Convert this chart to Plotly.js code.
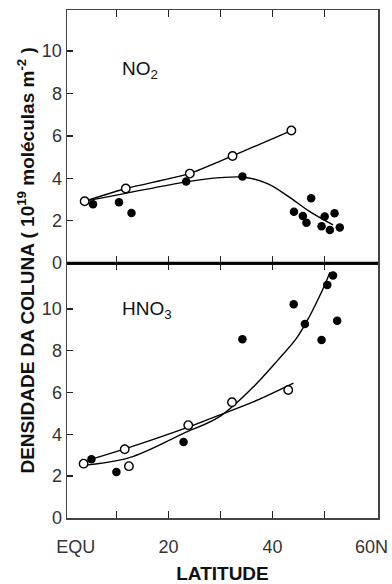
<!DOCTYPE html>
<html>
<head>
<meta charset="utf-8">
<script src="https://cdn.plot.ly/plotly-3.0.1.min.js"></script>
<style>html,body{margin:0;padding:0;background:#fff;}#chart{width:392px;height:584px;}</style>
</head>
<body>
<div id="chart"></div>
<script>
// ---------- NO2 panel (top) ----------
const no2OpenLat   = [3.9, 11.8, 24.1, 32.3, 43.6];
const no2OpenVal   = [2.92, 3.52, 4.22, 5.05, 6.25];
const no2FillLat   = [5.5, 10.5, 12.9, 23.4, 34.2, 44.1, 45.8, 46.5, 47.4, 49.4, 50.0, 51.0, 51.9, 52.9];
const no2FillVal   = [2.78, 2.87, 2.36, 3.85, 4.08, 2.42, 2.22, 1.90, 3.06, 1.74, 2.20, 1.56, 2.35, 1.68];
const no2FitLat    = [4.0, 12.0, 23.4, 30.0, 34.5, 39.0, 43.0, 47.0, 51.6];
const no2FitVal    = [2.92, 3.30, 3.83, 4.03, 4.05, 3.75, 3.15, 2.45, 1.80];

// ---------- HNO3 panel (bottom) ----------
const hno3OpenLat  = [3.7, 11.6, 12.4, 23.8, 32.2, 43.0];
const hno3OpenVal  = [2.60, 3.29, 2.48, 4.44, 5.54, 6.12];
const hno3FillLat  = [5.2, 10.0, 22.9, 34.2, 44.05, 46.2, 49.4, 50.5, 51.6, 52.4];
const hno3FillVal  = [2.81, 2.20, 3.64, 8.55, 10.22, 9.28, 8.51, 11.15, 11.60, 9.44];
const hno3OpenFitLat = [4.5, 11.3, 23.4, 29.5, 36.9, 44.0];
const hno3OpenFitVal = [2.76, 3.28, 4.31, 4.90, 5.62, 6.45];
const hno3FillFitLat = [3.6, 12.5, 22.8, 29.8, 36.2, 41.0, 44.6, 47.1, 49.0, 50.2, 51.0];
const hno3FillFitVal = [2.52, 2.89, 4.04, 4.85, 6.25, 7.55, 8.60, 9.65, 10.60, 11.25, 11.75];

// ---------- ticks / labels ----------
const latTickVals   = [10, 20, 30, 40, 50];
const latLabelVals  = [2.2, 20, 40, 59];
const latLabelText  = ['EQU', '20', '40', '60N'];
const colTickVals   = [0, 2, 4, 6, 8, 10];
const colTickText   = ['0', '2', '4', '6', '8', '10'];

const FONT = 'Liberation Sans, Arial, Helvetica, sans-serif';
const LINE = {color: '#000', width: 1.4, shape: 'spline', smoothing: 1.0};
const FILLM = {symbol: 'circle', size: 8.5, color: '#000', line: {width: 0}};
const OPENM = {symbol: 'circle', size: 8.5, color: '#fff', line: {color: '#000', width: 1.4}};

const traces = [
  // top: NO2
  {x: no2FitLat, y: no2FitVal, xaxis: 'x2', yaxis: 'y2', mode: 'lines', line: LINE, hoverinfo: 'skip'},
  {x: no2FillLat, y: no2FillVal, xaxis: 'x2', yaxis: 'y2', mode: 'markers', marker: FILLM},
  {x: no2OpenLat, y: no2OpenVal, xaxis: 'x2', yaxis: 'y2', mode: 'lines+markers', line: Object.assign({}, LINE, {smoothing: 0.4}), marker: OPENM},
  // bottom: HNO3
  {x: hno3FillFitLat, y: hno3FillFitVal, xaxis: 'x', yaxis: 'y', mode: 'lines', line: LINE, hoverinfo: 'skip'},
  {x: hno3OpenFitLat, y: hno3OpenFitVal, xaxis: 'x', yaxis: 'y', mode: 'lines', line: LINE, hoverinfo: 'skip'},
  {x: hno3FillLat, y: hno3FillVal, xaxis: 'x', yaxis: 'y', mode: 'markers', marker: FILLM},
  {x: hno3OpenLat, y: hno3OpenVal, xaxis: 'x', yaxis: 'y', mode: 'markers', marker: OPENM}
];

const XR = [0.51, 60.24];
const split = 0.5017;
const axLine = {showline: true, linecolor: '#444', linewidth: 1.5, showgrid: false, zeroline: false};
const minorTicks = {tickmode: 'array', tickvals: latTickVals, ticks: 'inside', ticklen: 7, tickwidth: 1.5, tickcolor: '#222', showgrid: false};

const layout = {
  width: 392, height: 584,
  margin: {l: 67, r: 14, t: 10, b: 66},
  paper_bgcolor: '#fff', plot_bgcolor: '#fff',
  showlegend: false,
  font: {family: FONT, size: 18, color: '#333'},
  xaxis: Object.assign({}, axLine, {domain: [0, 1], anchor: 'y', range: XR, tickmode: 'array',
    tickvals: latLabelVals, ticktext: latLabelText, ticks: 'inside', ticklen: 0, tickwidth: 0,
    minor: minorTicks, mirror: 'ticks',
    tickfont: {family: FONT, size: 18, color: '#333'}, ticklabelstandoff: 12,
    title: {text: 'LATITUDE', font: {family: FONT, size: 19, color: '#111', weight: 'bold'}, standoff: 11}}),
  xaxis2: Object.assign({}, axLine, {domain: [0, 1], anchor: 'y2', range: XR, tickmode: 'array',
    tickvals: latTickVals, ticks: 'inside', ticklen: 7, tickwidth: 1.5, tickcolor: '#222',
    showticklabels: false, mirror: 'ticks'}),
  yaxis: Object.assign({}, axLine, {domain: [0, split], anchor: 'x', range: [0, 12.19], tickmode: 'array',
    tickvals: colTickVals, ticktext: colTickText, ticks: 'inside', ticklen: 6, tickwidth: 1.5, tickcolor: '#222',
    mirror: true, tickfont: {family: FONT, size: 18, color: '#333'}}),
  yaxis2: Object.assign({}, axLine, {domain: [split, 1], anchor: 'x2', range: [0, 11.93], tickmode: 'array',
    tickvals: colTickVals, ticktext: colTickText, ticks: 'inside', ticklen: 6, tickwidth: 1.5, tickcolor: '#222',
    mirror: true, tickfont: {family: FONT, size: 18, color: '#333'}}),
  shapes: [
    {type: 'line', xref: 'paper', yref: 'paper', x0: 0, x1: 1, y0: split, y1: split, line: {color: '#000', width: 3}}
  ],
  annotations: [
    {text: 'NO<sub>2</sub>', xref: 'x2', yref: 'y2', x: 10.6, y: 9.08, xanchor: 'left', yanchor: 'middle',
      showarrow: false, font: {family: FONT, size: 19, color: '#111'}},
    {text: 'HNO<sub>3</sub>', xref: 'x', yref: 'y', x: 10.6, y: 9.95, xanchor: 'left', yanchor: 'middle',
      showarrow: false, font: {family: FONT, size: 19, color: '#111'}},
    {text: 'DENSIDADE DA COLUNA ( 10<sup>19</sup> moléculas m<sup>-2</sup> )', xref: 'paper', yref: 'paper',
      x: -0.133, y: 0.506, xanchor: 'center', yanchor: 'middle', textangle: -90, showarrow: false,
      font: {family: FONT, size: 19, color: '#111', weight: 'bold'}}
  ]
};

Plotly.newPlot('chart', traces, layout, {staticPlot: true, displayModeBar: false});
</script>
</body>
</html>
